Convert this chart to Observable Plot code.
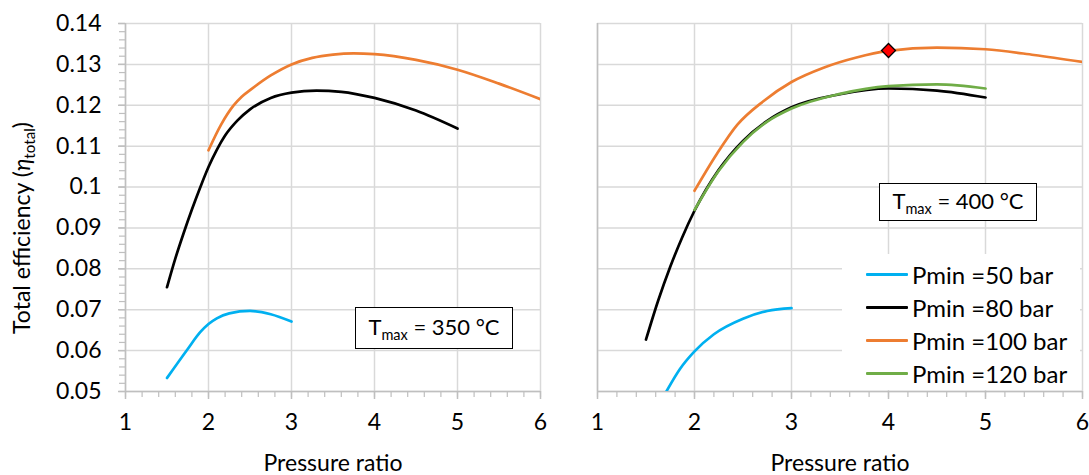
<!DOCTYPE html>
<html>
<head>
<meta charset="utf-8">
<script src="https://cdn.jsdelivr.net/npm/d3@7"></script>
<script src="https://cdn.jsdelivr.net/npm/@observablehq/plot@0.6"></script>
<style>
  html, body { margin: 0; padding: 0; background: #fff; }
  #wrap { position: relative; width: 1089px; height: 475px; font-family: Lato, "Open Sans", sans-serif; color: #000; overflow: hidden; }
  .panel { position: absolute; top: 0; }
  .ylab { position: absolute; left: 21px; top: 228px; transform: translate(-50%, -50%) rotate(-90deg); white-space: nowrap; font-size: 23px; line-height: 1; }
  sub { font-size: 0.66em; vertical-align: -0.35em; line-height: 0; }
  .tbox { position: absolute; box-sizing: border-box; border: 1.5px solid #000; background: #fff; display: flex; align-items: center; justify-content: center; font-size: 22px; line-height: 1; white-space: nowrap; }
  .tbox span { display: inline-block; margin-top: -2px; }
  .legend { position: absolute; background: #fff; }
  .legend .row { position: absolute; left: 0; height: 30px; display: flex; align-items: center; white-space: nowrap; font-size: 24px; }
  .legend .sw { width: 42px; height: 3px; margin-right: 4px; border-radius: 1px; }
</style>
</head>
<body>
<div id="wrap">
  <div id="left" class="panel" style="left:0"></div>
  <div id="right" class="panel" style="left:560px"></div>
  <div class="ylab">Total efficiency (<i>η</i><sub>total</sub>)</div>
  <div class="tbox" style="left:355px;top:307px;width:158px;height:42px"><span>T<sub>max</sub> = 350 °C</span></div>
  <div class="tbox" style="left:879px;top:183px;width:158px;height:38px"><span>T<sub>max</sub> = 400 °C</span></div>
  <div id="legend" class="legend" style="left:842px;top:254px;width:238px;height:136px"></div>
</div>
<script>
// ---- tick values ----
const xTicks = [1, 2, 3, 4, 5, 6];
const yTicks = [0.05, 0.06, 0.07, 0.08, 0.09, 0.1, 0.11, 0.12, 0.13, 0.14];

// ---- series ----
const seriesNames = ["Pmin =50 bar", "Pmin =80 bar", "Pmin =100 bar", "Pmin =120 bar"];
const seriesColors = ["#00b0f0", "#000000", "#ed7d31", "#70ad47"];

// Tmax = 350 °C
const x350_50 = [1.5, 1.75, 1.9, 2.0, 2.1, 2.25, 2.5, 2.75, 3.0];
const y350_50 = [0.0533, 0.0604, 0.0645, 0.0665, 0.0679, 0.0691, 0.0697, 0.0689, 0.0671];
const x350_80 = [1.5, 1.6, 1.7, 1.8, 1.9, 2.0, 2.1, 2.2, 2.35, 2.5, 2.75, 3.0, 3.3, 3.6, 4.0, 4.5, 5.0];
const y350_80 = [0.0755, 0.0825, 0.0887, 0.0945, 0.0999, 0.1049, 0.1091, 0.1126, 0.1163, 0.1190, 0.1218, 0.1231, 0.1236, 0.1233, 0.1218, 0.1187, 0.1143];
const x350_100 = [2.0, 2.15, 2.3, 2.4, 2.5, 2.75, 3.0, 3.25, 3.5, 3.75, 4.0, 4.5, 5.0, 5.5, 6.0];
const y350_100 = [0.1090, 0.1152, 0.1199, 0.1221, 0.1237, 0.1273, 0.1300, 0.1316, 0.1324, 0.1327, 0.1325, 0.1311, 0.1287, 0.1253, 0.1215];

// Tmax = 400 °C
const x400_50 = [1.71, 1.85, 2.0, 2.2, 2.5, 2.75, 3.0];
const y400_50 = [0.0500, 0.0555, 0.0598, 0.0640, 0.0678, 0.0697, 0.0704];
const x400_80 = [1.5, 1.625, 1.75, 1.875, 2.0, 2.25, 2.5, 2.75, 3.0, 3.5, 4.0, 4.5, 5.0];
const y400_80 = [0.0627, 0.0722, 0.0805, 0.0878, 0.0942, 0.1042, 0.1113, 0.1162, 0.1195, 0.1227, 0.1241, 0.1236, 0.1219];
const x400_100 = [2.0, 2.23, 2.44, 2.71, 3.0, 3.33, 3.67, 4.0, 4.5, 5.0, 5.5, 6.0];
const y400_100 = [0.0991, 0.1081, 0.1152, 0.1210, 0.1257, 0.1292, 0.1317, 0.1333, 0.1341, 0.1337, 0.1323, 0.1306];
const x400_120 = [2.0, 2.25, 2.5, 2.75, 3.0, 3.5, 4.0, 4.5, 5.0];
const y400_120 = [0.0944, 0.1040, 0.1110, 0.1160, 0.1192, 0.1228, 0.1247, 0.1251, 0.1241];

// highlighted design point
const markX = [4.0];
const markY = [0.1334];

// ---- build tables ----
function rows(xs, ys, name) { return xs.map((x, i) => ({x, y: ys[i], series: name})); }
const data350 = [
  ...rows(x350_50, y350_50, seriesNames[0]),
  ...rows(x350_80, y350_80, seriesNames[1]),
  ...rows(x350_100, y350_100, seriesNames[2])
];
const data400 = [
  ...rows(x400_50, y400_50, seriesNames[0]),
  ...rows(x400_80, y400_80, seriesNames[1]),
  ...rows(x400_100, y400_100, seriesNames[2]),
  ...rows(x400_120, y400_120, seriesNames[3])
];
const marker = markX.map((x, i) => ({x, y: markY[i]}));

const xMinor = d3.range(1, 6.0001, 0.2).map(v => +v.toFixed(2));
const yMinor = d3.range(0.05, 0.14001, 0.002).map(v => +v.toFixed(3));

const GRID = "#d9d9d9";
const AXIS = "#bfbfbf";
const FONT = 23;

function panel({width, marginLeft, marginRight, data, showY, extra = []}) {
  const marks = [
    Plot.gridY(yTicks, {stroke: GRID, strokeOpacity: 1, strokeWidth: 1.5}),
    Plot.gridX(xTicks, {stroke: GRID, strokeOpacity: 1, strokeWidth: 1.5}),
    Plot.ruleX([xTicks[0]], {stroke: AXIS, strokeWidth: 1.5}),
    Plot.ruleY([yTicks[0]], {stroke: AXIS, strokeWidth: 1.5}),
    Plot.axisX(xMinor, {tickSize: 6, tickFormat: () => "", stroke: AXIS, strokeWidth: 1.2, label: null}),
    Plot.axisX(xTicks, {tickSize: 8, tickPadding: 14, fontSize: FONT, fill: "#000", stroke: AXIS, strokeWidth: 1.5, tickFormat: d => String(d), label: null}),
    Plot.text(["Pressure ratio"], {frameAnchor: "bottom", lineAnchor: "bottom", dy: 79, fontSize: FONT, fill: "#000"})
  ];
  if (showY) {
    marks.push(
      Plot.axisY(yMinor, {tickSize: 6, tickFormat: () => "", stroke: AXIS, strokeWidth: 1.2, label: null}),
      Plot.axisY(yTicks, {tickSize: 7, tickPadding: 17, fontSize: FONT, fill: "#000", stroke: AXIS, strokeWidth: 1.5, tickFormat: d => String(d), label: null})
    );
  }
  marks.push(
    Plot.line(data, {x: "x", y: "y", z: "series", stroke: "series", strokeWidth: 2.7, curve: "monotone-x", clip: true}),
    ...extra
  );
  return Plot.plot({
    width, height: 475,
    marginLeft, marginRight, marginTop: 23, marginBottom: 84,
    style: {fontFamily: "Lato, 'Open Sans', sans-serif", background: "transparent", overflow: "visible"},
    x: {domain: [1, 6], axis: null},
    y: {domain: [0.05, 0.14], axis: null},
    color: {domain: seriesNames, range: seriesColors},
    marks
  });
}

document.getElementById("left").appendChild(panel({
  width: 560, marginLeft: 125, marginRight: 20, data: data350, showY: true
}));
document.getElementById("right").appendChild(panel({
  width: 529, marginLeft: 37, marginRight: 7, data: data400, showY: false,
  extra: [Plot.dot(marker, {x: "x", y: "y", symbol: "diamond2", r: 6.3, fill: "#ff0000", stroke: "#000", strokeWidth: 1.3})]
}));

// legend
const legend = document.getElementById("legend");
seriesNames.forEach((name, i) => {
  const row = document.createElement("div");
  row.className = "row";
  row.style.top = (5 + i * 33) + "px";
  row.style.left = "24px";
  const sw = document.createElement("div");
  sw.className = "sw";
  sw.style.background = seriesColors[i];
  const t = document.createElement("span");
  t.textContent = name;
  row.appendChild(sw);
  row.appendChild(t);
  legend.appendChild(row);
});
</script>
</body>
</html>
